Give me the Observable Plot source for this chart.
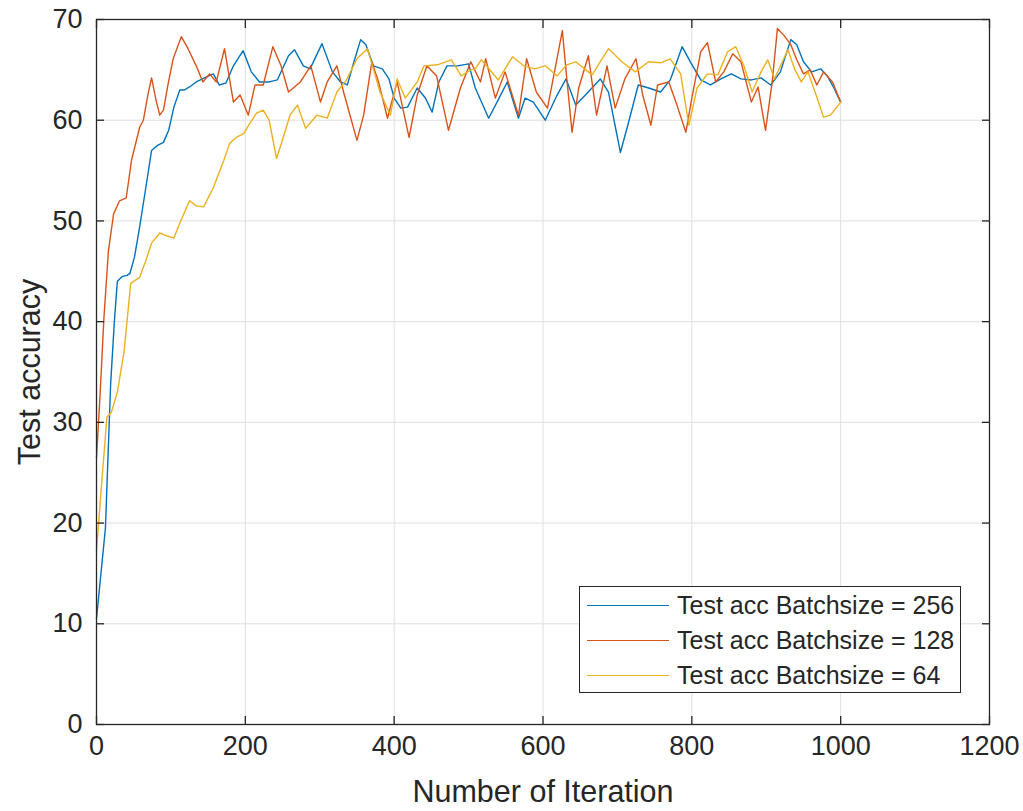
<!DOCTYPE html>
<html>
<head>
<meta charset="utf-8">
<script src="https://cdn.jsdelivr.net/npm/d3@7"></script>
<script src="https://cdn.jsdelivr.net/npm/@observablehq/plot@0.6"></script>
<style>
  html, body { margin: 0; padding: 0; background: #fff; }
  #wrap { position: relative; width: 1023px; height: 811px; font-family: "Liberation Sans", Arial, sans-serif; }
  #legend { position: absolute; left: 579px; top: 586px; width: 382px; height: 107px; border: 1.3px solid #262626; background: #fff; box-sizing: border-box; }
  .row { position: absolute; left: 0; height: 30px; display: flex; align-items: center; }
  .swatch { width: 82px; height: 0; border-top: 1.5px solid; margin-left: 7px; margin-right: 8px; }
  .lab { font-size: 25px; color: #262626; white-space: nowrap; }
</style>
</head>
<body>
<div id="wrap"></div>
<script>
// ---- data ----
const iter256 = [0,6,12,19,24,28,35,41,45,51,58,65,74,82,90,97,104,112,118,125,134,148,157,165,174,184,197,208,219,232,243,258,266,278,287,303,317,328,337,346,355,362,372,384,393,400,409,418,431,442,451,460,471,485,500,509,527,541,552,567,576,587,603,619,631,644,657,677,688,704,715,728,742,758,771,787,798,812,825,839,853,866,880,893,906,919,933,941,950,961,973,982,991,1000];
const acc256  = [10.5,15,19.5,33.8,40,44,44.5,44.6,44.8,46.4,49.4,52.7,57,57.5,57.8,59,61.3,63,63,63.3,63.8,64.3,64.6,63.5,63.7,65.4,66.9,64.8,63.8,63.8,64,66.4,67,65.4,65.1,67.6,64.8,63.8,63.5,65.8,68,67.5,65.4,65.1,64.1,62.2,61.2,61.3,63.2,62.2,60.8,63.8,65.4,65.4,65.6,63.2,60.2,62.2,63.8,60.2,62.2,61.8,60,62.5,64.1,61.5,62.5,64.1,62.8,56.8,59.8,63.5,63.2,62.8,64,67.3,65.8,64,63.5,64.1,64.6,64.1,64,64.2,63.5,64.8,68,67.5,65.8,64.8,65.1,64.4,63.2,61.8];

const iter128 = [0,5,10,16,23,31,40,47,58,63,69,74,80,85,90,96,103,114,123,134,143,152,161,172,184,193,204,213,224,237,248,258,274,288,301,310,323,332,350,359,370,379,391,404,420,431,444,457,473,489,503,516,523,536,549,567,578,591,606,617,626,632,639,648,661,672,686,697,710,725,734,745,754,769,780,792,800,812,821,832,843,855,866,880,889,899,908,915,924,933,941,950,959,968,977,989,1000];
const acc128  = [26.5,33,40.4,47,50.7,52,52.3,56,59.3,60,62.5,64.2,62,60.5,61,63.5,66.1,68.3,67.1,65.4,63.8,64.6,63.8,67.1,61.8,62.5,60.5,63.5,63.5,67.3,65.4,62.8,63.8,65.4,61.8,63.8,65.4,62.8,58,60.5,65.8,63.8,60.2,63.8,58.3,62.5,65.4,64.4,59,63.2,65.8,63.8,66.1,62.2,64.8,60.5,66.1,62.8,61.2,65.4,68.9,64.1,58.8,63.2,66.4,60.5,65.4,61.2,64.1,66.1,62.5,59.5,63.5,63.8,61.5,58.8,62.2,66.8,67.7,63.8,64.8,66.6,65.8,61.8,63.3,59,63.8,69.1,68.4,67.5,66,64.6,65,63.5,64.8,63.8,61.8];

const iter64 = [0,7,14,20,28,37,46,58,66,74,85,95,104,112,125,134,144,157,171,179,188,198,207,215,224,232,238,242,251,260,270,281,296,310,323,336,350,364,372,381,395,404,415,431,440,458,477,490,503,509,517,524,540,559,574,589,603,619,632,644,666,688,706,724,742,758,771,785,796,807,821,835,848,859,870,881,893,902,911,929,938,947,956,967,977,986,995,1000];
const acc64  = [17.3,24,30.5,31,33,37,43.8,44.4,46,47.8,48.8,48.5,48.3,49.8,52,51.5,51.4,53.3,56,57.7,58.3,58.7,59.8,60.7,61,60,57.7,56.2,58.3,60.5,61.5,59.2,60.5,60.2,62.8,64,66.1,67.1,65.1,62.8,60.5,64.1,62.2,63.8,65.4,65.5,66,64.4,65,65.1,66,65.4,64,66.3,65.4,65.1,65.4,64.4,65.5,65.8,64.5,67.1,65.8,64.8,65.8,65.7,66.1,64.6,59.5,63.2,64.6,64.5,66.8,67.3,65.4,62.8,64.8,66,64.1,67,65.1,63.8,64.8,62.5,60.3,60.5,61.3,61.8];

const seriesNames = ["Test acc Batchsize = 256", "Test acc Batchsize = 128", "Test acc Batchsize = 64"];
const seriesColors = ["#0072BD", "#D95319", "#EDB120"];
const xTicks = [0, 200, 400, 600, 800, 1000, 1200];
const yTicks = [0, 10, 20, 30, 40, 50, 60, 70];
const xLabel = "Number of Iteration";
const yLabel = "Test accuracy";

// build tables
const toRows = (xs, ys) => xs.map((x, i) => ({x, y: ys[i]}));
const series = [toRows(iter256, acc256), toRows(iter128, acc128), toRows(iter64, acc64)];

const ink = "#262626";
const tk = 8; // inward tick length
const chart = Plot.plot({
  width: 1023,
  height: 811,
  marginLeft: 96,
  marginRight: 34,
  marginTop: 19,
  marginBottom: 87,
  style: {fontFamily: "'Liberation Sans', Arial, sans-serif", fontSize: "27px", color: ink, background: "#fff", overflow: "visible"},
  x: {domain: [0, 1200]},
  y: {domain: [0, 70]},
  marks: [
    Plot.gridX(xTicks, {stroke: "#dfdfdf", strokeOpacity: 1, strokeWidth: 1}),
    Plot.gridY(yTicks, {stroke: "#dfdfdf", strokeOpacity: 1, strokeWidth: 1}),
    ...series.map((rows, i) => Plot.line(rows, {x: "x", y: "y", stroke: seriesColors[i], strokeWidth: 1.4})),
    Plot.axisX(xTicks, {anchor: "bottom", tickSize: 0, tickPadding: 11, fontSize: 27, tickFormat: "d", label: null}),
    Plot.axisY(yTicks, {anchor: "left", tickSize: 0, tickPadding: 14, fontSize: 27, tickFormat: "d", label: null}),
    Plot.axisX(xTicks, {anchor: "bottom", tickSize: tk, dy: -tk, text: null, label: null, stroke: ink, strokeWidth: 1.3}),
    Plot.axisX(xTicks, {anchor: "top", tickSize: tk, dy: tk, text: null, label: null, stroke: ink, strokeWidth: 1.3}),
    Plot.axisY(yTicks, {anchor: "left", tickSize: tk, dx: tk, text: null, label: null, stroke: ink, strokeWidth: 1.3}),
    Plot.axisY(yTicks, {anchor: "right", tickSize: tk, dx: -tk, text: null, label: null, stroke: ink, strokeWidth: 1.3}),
    Plot.frame({stroke: ink, strokeWidth: 1.3}),
    Plot.text([xLabel], {frameAnchor: "bottom", textAnchor: "middle", dy: 77, fontSize: 30.5, fill: ink}),
    Plot.text([yLabel], {frameAnchor: "left", textAnchor: "middle", dx: -66, rotate: -90, fontSize: 30.5, fill: ink})
  ]
});

const wrap = document.getElementById("wrap");
wrap.appendChild(chart);

// legend overlay
const legend = document.createElement("div");
legend.id = "legend";
seriesNames.forEach((name, i) => {
  const row = document.createElement("div");
  row.className = "row";
  row.style.top = (3 + i * 35) + "px";
  const sw = document.createElement("div");
  sw.className = "swatch";
  sw.style.borderTopColor = seriesColors[i];
  const lab = document.createElement("span");
  lab.className = "lab";
  lab.textContent = name;
  row.appendChild(sw);
  row.appendChild(lab);
  legend.appendChild(row);
});
wrap.appendChild(legend);
</script>
</body>
</html>
